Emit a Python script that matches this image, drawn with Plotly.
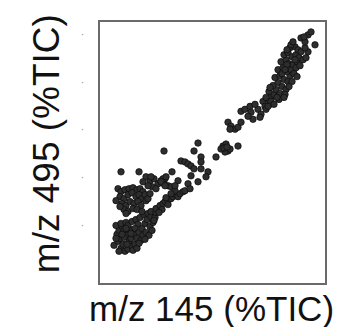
import plotly.graph_objects as go

# m/z 145 (%TIC) values, arbitrary units (x) and m/z 495 (%TIC) values (y)
lower_x = [16,20,23,27,30,25,22,19,21,24,18,23,28,26,29,31,34,37,33,36,32,30,34,38,40,37,41,39,43,45,44,47,42,46,50,49,52,48,51,54,55,53,57,21,29,26,35,39,28,33,18,41,47,53,58,60,24]
lower_y = [53,57,50,47,49,54,60,64,68,72,73,75,76,68,63,57,52,54,60,64,69,73,77,79,74,70,66,60,58,63,70,75,81,84,85,79,72,66,63,68,76,82,81,47,54,61,48,50,70,65,60,55,59,87,86,90,64]

band_x = [58,62,65,67,70,73,75,78,80,82,85,87,70,64,61,68,56]
band_y = [90,93,95,97,98,100,102,104,102,105,107,108,94,89,86,101,78]

upleft_x = [20,23,27,31,35,39,42,45,22,26,30,34,38,41,44,47,24,28,32,36,40,43,48,26,30,35,39,44,22,18,50,52,28]
upleft_y = [110,107,109,110,111,109,110,107,102,100,104,106,102,104,100,104,95,93,97,95,97,93,98,89,87,90,89,87,92,98,100,105,85]

scatter_x = [23,41,74,48,52,56,60,54,58,63,66,70,45,50,53,67,73,77]
scatter_y = [127,127,127,122,118,120,115,112,110,118,115,113,117,113,122,120,112,108]

mid_x = [66,100,96,125,128,130,127,132,123,126,129,140,118,83,87,90,93,103,103,96,103,110,108,93,100,65,68,63,67,80,77,90,92,73]
mid_y = [148,156,148,153,155,148,147,150,150,151,152,153,142,138,137,135,133,142,137,130,130,127,122,123,117,120,122,117,113,118,113,115,110,105]

upmid_x = [130,133,137,140,143,132,143,147,152,153,155,160,163,162,150,157,165,167,170,173,168,172]
upmid_y = [177,173,170,172,177,170,188,190,193,187,180,190,185,182,183,195,198,193,200,203,190,195]

top_x = [168,173,176,171,178,182,175,180,184,188,187,177,182,186,190,192,180,185,189,193,196,183,188,191,195,199,186,190,194,198,201,205,192,197,193,200,203,208,210,189,194,181,172,184,198,202,207,203,207,210,213,217,206,195,186,191,199,179,176,170,189,187,197]
top_y = [202,198,205,208,210,206,214,217,213,210,205,222,224,220,218,224,230,232,228,230,226,238,240,236,235,238,245,247,243,245,242,240,252,253,255,250,248,242,248,235,218,200,212,226,232,234,252,262,258,265,268,255,263,258,202,213,223,202,195,193,250,230,240]

xs = lower_x + band_x + upleft_x + scatter_x + mid_x + upmid_x + top_x
ys = lower_y + band_y + upleft_y + scatter_y + mid_y + upmid_y + top_y

y_tick_vals = [73, 121, 170, 217, 265]
y_tick_text = ["·"] * 5

fig = go.Figure()
fig.add_trace(go.Scatter(
    x=xs, y=ys, mode="markers",
    marker=dict(size=6.5, color="#2e2e2e", line=dict(color="#0a0a0a", width=0.7)),
    showlegend=False,
))

fig.update_layout(
    width=348, height=327,
    margin=dict(l=92, r=31, t=12, b=52),
    paper_bgcolor="white", plot_bgcolor="white",
    font=dict(family="Liberation Sans, Arial, sans-serif", color="#111111"),
    xaxis=dict(range=[2, 227], showgrid=False, zeroline=False, showticklabels=False,
               ticks="", showline=True, mirror=True, linecolor="#6a6a6a", linewidth=2),
    yaxis=dict(range=[15, 278], showgrid=False, zeroline=False,
               tickvals=y_tick_vals, ticktext=y_tick_text, ticks="",
               tickfont=dict(size=10, color="#8a8a8a"), ticklabelstandoff=12,
               showline=True, mirror=True, linecolor="#6a6a6a", linewidth=2),
    annotations=[
        dict(text="m/z 145 (%TIC)", xref="paper", yref="paper", x=0.496, y=-0.098,
             xanchor="center", yanchor="middle", showarrow=False,
             font=dict(size=35, color="#111111")),
        dict(text="m/z 495 (%TIC)", xref="paper", yref="paper", x=-0.24, y=0.532,
             xanchor="center", yanchor="middle", showarrow=False, textangle=-90,
             font=dict(size=37, color="#111111")),
    ],
)

fig.write_html("out.html")
